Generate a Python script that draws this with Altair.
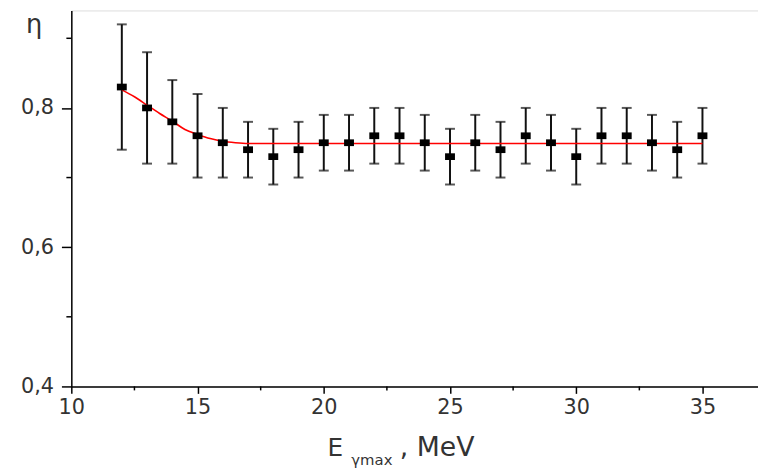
import altair as alt
import pandas as pd

# Data
x_vals = [12, 13, 14, 15, 16, 17, 18, 19, 20, 21, 22, 23, 24, 25, 26, 27, 28, 29, 30, 31, 32, 33, 34, 35]
eta = [0.83, 0.80, 0.78, 0.76, 0.75, 0.74, 0.73, 0.74, 0.75, 0.75, 0.76, 0.76,
       0.75, 0.73, 0.75, 0.74, 0.76, 0.75, 0.73, 0.76, 0.76, 0.75, 0.74, 0.76]
err = [0.09, 0.08, 0.06, 0.06, 0.05, 0.04, 0.04, 0.04, 0.04, 0.04, 0.04, 0.04,
       0.04, 0.04, 0.04, 0.04, 0.04, 0.04, 0.04, 0.04, 0.04, 0.04, 0.04, 0.04]

fit_x = [12, 12.5, 13, 13.5, 14, 14.5, 15, 15.5, 16, 16.5, 17, 20, 25, 30, 35]
fit_y = [0.826, 0.816, 0.804, 0.792, 0.781, 0.769, 0.762, 0.756, 0.752, 0.750, 0.749,
         0.749, 0.749, 0.749, 0.749]

x_major = [10, 15, 20, 25, 30, 35]
x_minor = [12.5, 17.5, 22.5, 27.5, 32.5]
y_major = [0.4, 0.6, 0.8]
y_minor = [0.5, 0.7, 0.9]

W, H = 694, 380
XDOM = [10, 37.2]
YDOM = [0.4, 0.94]
FONT = "DejaVu Sans"
TXT = "#333333"

pts = pd.DataFrame({"x": x_vals, "eta": eta, "err": err})
pts["lo"] = pts["eta"] - pts["err"]
pts["hi"] = pts["eta"] + pts["err"]
fit = pd.DataFrame({"x": fit_x, "y": fit_y})

xs = alt.Scale(domain=XDOM, nice=False, zero=False)
ys = alt.Scale(domain=YDOM, nice=False, zero=False)

xaxis = alt.Axis(values=x_major, title=None, grid=False, tickSize=7, tickWidth=1.5,
                 tickColor="black", domainColor="black", domainWidth=1.5,
                 labelFont=FONT, labelFontSize=21, labelColor=TXT, labelPadding=3,
                 labelFlush=False)
yaxis = alt.Axis(values=y_major, title="η", grid=False, tickSize=10, tickWidth=1.5,
                 tickColor="black", domainColor="black", domainWidth=1.5,
                 labelFont=FONT, labelFontSize=21, labelColor=TXT, labelPadding=8,
                 labelExpr="replace(format(datum.value, '.1f'), '.', ',')",
                 titleAngle=0, titleX=-38, titleY=22, titleAlign="center",
                 titleBaseline="alphabetic", titleFont=FONT, titleFontSize=26,
                 titleFontWeight="normal", titleColor=TXT)

base = alt.Chart(pts)

bars = base.mark_rule(color="#111111", strokeWidth=2).encode(
    x=alt.X("x:Q", scale=xs, axis=xaxis),
    y=alt.Y("lo:Q", scale=ys, axis=yaxis),
    y2="hi:Q",
)
cap_lo = base.mark_tick(color="#111111", orient="horizontal", size=10, thickness=2).encode(
    x=alt.X("x:Q", scale=xs), y=alt.Y("lo:Q", scale=ys))
cap_hi = base.mark_tick(color="#111111", orient="horizontal", size=10, thickness=2).encode(
    x=alt.X("x:Q", scale=xs), y=alt.Y("hi:Q", scale=ys))

line = alt.Chart(fit).mark_line(color="#ff0000", strokeWidth=1.6, interpolate="monotone").encode(
    x=alt.X("x:Q", scale=xs), y=alt.Y("y:Q", scale=ys))

squares = base.mark_point(shape="M-1,-0.68L1,-0.68L1,0.68L-1,0.68Z", size=100,
                          filled=True, color="black", opacity=1).encode(
    x=alt.X("x:Q", scale=xs), y=alt.Y("eta:Q", scale=ys))

xminor = alt.Chart(pd.DataFrame({"x": x_minor})).mark_rule(color="black", strokeWidth=1.5).encode(
    x=alt.X("x:Q", scale=xs), y=alt.value(H), y2=alt.value(H + 4))
yminor = alt.Chart(pd.DataFrame({"y": y_minor})).mark_rule(color="black", strokeWidth=1.5).encode(
    y=alt.Y("y:Q", scale=ys), x=alt.value(-5), x2=alt.value(0))

t_e = alt.Chart(pd.DataFrame({"t": ["E"]})).mark_text(
    font=FONT, fontSize=25, color=TXT, align="left", baseline="alphabetic").encode(
    x=alt.value(259), y=alt.value(450), text="t:N")
t_sub = alt.Chart(pd.DataFrame({"t": ["γmax"]})).mark_text(
    font=FONT, fontSize=15, color=TXT, align="left", baseline="alphabetic").encode(
    x=alt.value(283), y=alt.value(459), text="t:N")
t_mev = alt.Chart(pd.DataFrame({"t": [", MeV"]})).mark_text(
    font=FONT, fontSize=27, color=TXT, align="left", baseline="alphabetic").encode(
    x=alt.value(332), y=alt.value(450), text="t:N")

chart = alt.layer(bars, cap_lo, cap_hi, line, squares, xminor, yminor, t_e, t_sub, t_mev).properties(
    width=W, height=H,
    autosize=alt.AutoSizeParams(type="none"),
    padding={"left": 64, "top": 0, "right": 0, "bottom": 83},
).configure_view(stroke=None).configure(background="white")

chart.save("out.html", embed_options={"renderer": "svg", "actions": False})
